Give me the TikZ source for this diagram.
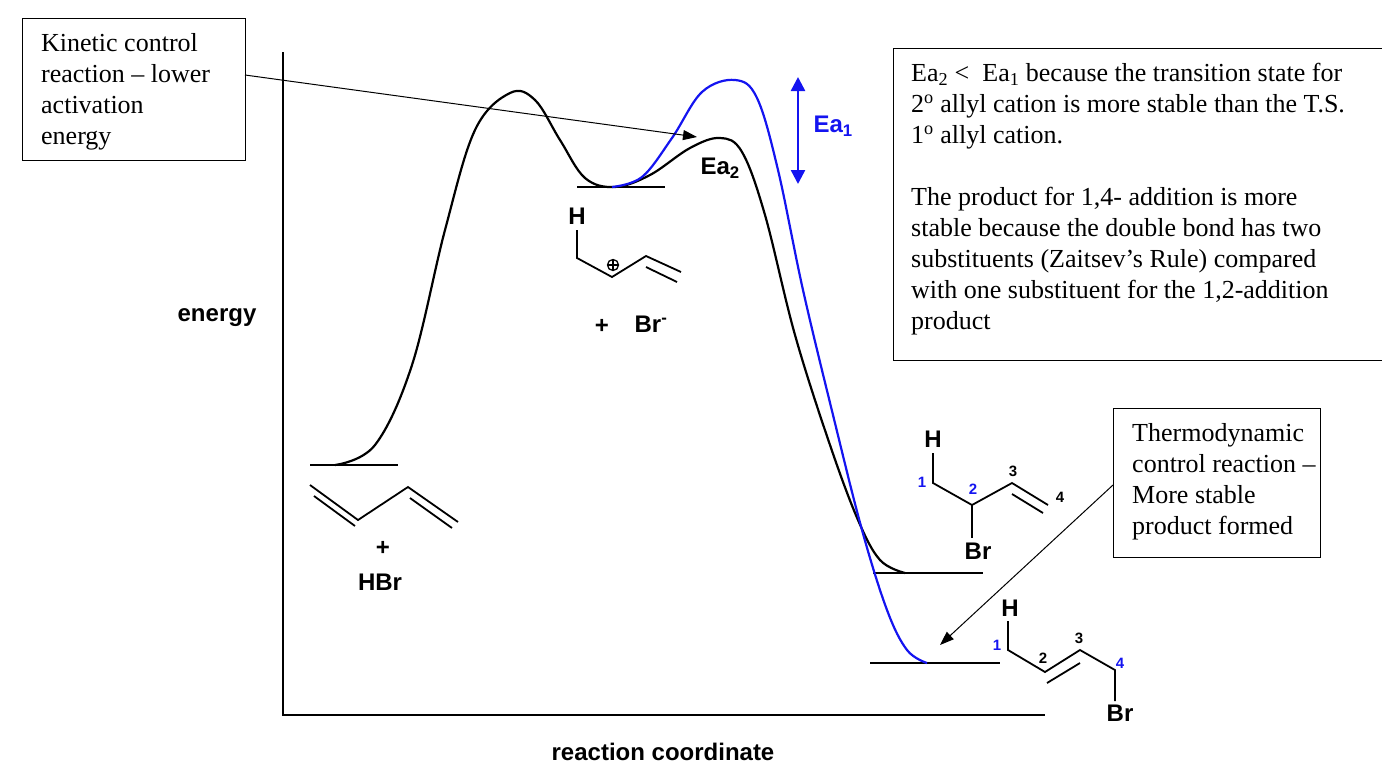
\documentclass[tikz,border=0pt]{standalone}
\usepackage{fontspec}
\setmainfont{Liberation Serif}
\setsansfont{Liberation Sans}
\usetikzlibrary{arrows.meta}
\definecolor{eablue}{RGB}{20,20,240}
\begin{document}
\begin{tikzpicture}[x=1pt,y=-1pt,
  ln/.style={line width=2.2pt},
  bd/.style={line width=1.8pt},
  box/.style={draw,line width=0.8pt,anchor=north west,inner sep=0pt},
  tx/.style={anchor=north west,align=left,inner sep=0pt,font=\fontsize{26}{31}\selectfont\rmfamily},
  chem/.style={font=\fontsize{24}{26}\selectfont\sffamily\bfseries},
  num/.style={font=\fontsize{15}{16}\selectfont\sffamily\bfseries},
  bnum/.style={num,text=eablue},
  ptr/.style={line width=1pt,-{Triangle[length=14pt,width=10pt]}}]
\useasboundingbox (0,0) rectangle (1382,764);
% axes
\draw[ln] (283,52) -- (283,715) -- (1045,715);
% level lines
\draw[ln] (310,465) -- (398,465);
\draw[ln] (577,187) -- (665,187);
\draw[ln] (873,573) -- (983,573);
\draw[ln] (870,663) -- (1000,663);
% black curve
\draw[ln] plot[smooth,tension=0.6] coordinates {(335,465)(375,445)(412,365)(445,230)(475,130)(510,93)(535,100)(560,140)(585,178)(615,187)(650,175)(690,148)(720,138)(742,152)(765,215)(795,335)(830,445)(858,520)(880,560)(905,573)};
% blue curve
\draw[ln,eablue] plot[smooth,tension=0.6] coordinates {(612,187)(642,177)(672,138)(702,92)(735,80)(757,98)(778,170)(803,290)(833,415)(862,530)(887,610)(907,650)(927,663)};
% Ea arrows
\draw[line width=2.5pt,eablue,{Triangle[length=14pt,width=14pt]}-{Triangle[length=14pt,width=14pt]}] (798,77) -- (798,184);
\node[chem,text=eablue,anchor=west] (ea1) at (810,126) {Ea\textsubscript{1}};
\node[chem,anchor=west] (ea2) at (697,168) {Ea\textsubscript{2}};
% axis labels
\node[chem] (en) at (217,318) {energy};
\node[chem] (rc) at (663,752) {reaction coordinate};
% boxes
\node[box,minimum width=223pt,minimum height=142pt] (kin) at (22,18) {};
\node[tx] (kint) at (41,33) {Kinetic control\\reaction -- lower\\activation\\energy};
\node[box,minimum width=489pt,minimum height=312pt] (rbox) at (893,48) {};
\node[tx] (rt) at (911,63) {Ea\textsubscript{2} <\ \ Ea\textsubscript{1} because the transition state for\\2\textsuperscript{o} allyl cation is more stable than the T.S.\\1\textsuperscript{o} allyl cation.\\[31pt]The product for 1,4- addition is more\\stable because the double bond has two\\substituents (Zaitsev’s Rule) compared\\with one substituent for the 1,2-addition\\product};
\node[box,minimum width=207pt,minimum height=149pt] (thb) at (1113,408) {};
\node[tx] (tht) at (1132,423) {Thermodynamic\\control reaction --\\More stable\\product formed};
\coordinate (k1) at (245,75);
\coordinate (k2) at (697,137);
\draw[ptr] (k1) -- (k2);
\coordinate (t1) at (1113,485);
\coordinate (t2) at (940,645);
\draw[ptr] (t1) -- (t2);
% butadiene
\draw[bd] (310,485) -- (358,520) -- (408,487) -- (458,522);
\draw[bd] (314,496) -- (355,526);
\draw[bd] (410,498) -- (452,528);
\node[chem] (p1) at (383,548) {+};
\node[chem] (hbr) at (380,582) {HBr};
% allyl cation
\node[chem] (h1) at (577,216) {H};
\draw[bd] (577,230) -- (577,258) -- (612,277) -- (646,256) -- (681,272);
\draw[bd] (646,267) -- (677,282);
\node[draw,circle,line width=1.3pt,minimum size=11pt,inner sep=0pt] (plus) at (613,265) {};
\draw[line width=1.3pt] (plus.west) -- (plus.east) (plus.north) -- (plus.south);
\node[chem] (p2) at (602,326) {+};
\node[chem] (br1) at (651,324) {Br\textsuperscript{-}};
% 1,2 product
\node[chem] (h2) at (933,439) {H};
\draw[bd] (933,453) -- (933,483) -- (972,505) -- (1012,483) -- (1048,505);
\draw[bd] (1012,494) -- (1043,513);
\draw[bd] (972,505) -- (972,538);
\node[chem] (br2) at (978,551) {Br};
\node[bnum] at (922,482) {1};
\node[bnum] at (973,489) {2};
\node[num] at (1013,471) {3};
\node[num] at (1060,497) {4};
% 1,4 product
\node[chem] (h3) at (1010,608) {H};
\draw[bd] (1008,621) -- (1008,650) -- (1045,672) -- (1080,650) -- (1115,670) -- (1115,701);
\draw[bd] (1047,683) -- (1080,663);
\node[chem] (br3) at (1120,713) {Br};
\node[bnum] at (997,645) {1};
\node[num] at (1043,658) {2};
\node[num] at (1079,638) {3};
\node[bnum] at (1120,663) {4};
\end{tikzpicture}
\end{document}
